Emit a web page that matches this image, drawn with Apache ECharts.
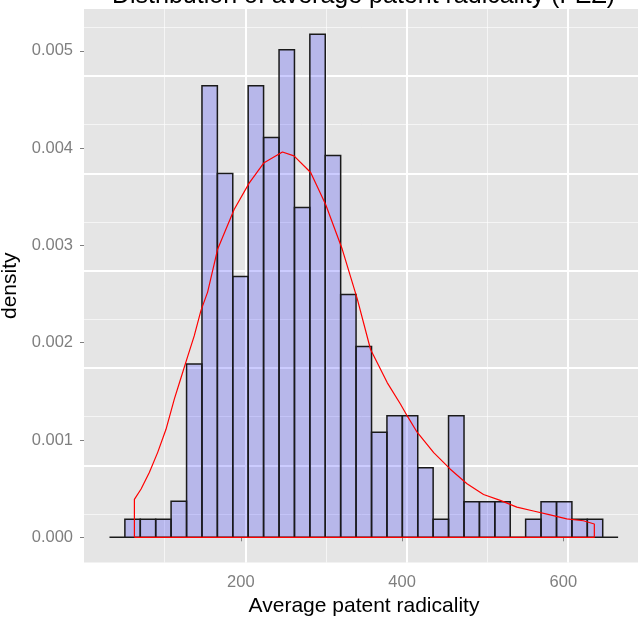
<!DOCTYPE html>
<html>
<head>
<meta charset="utf-8">
<title>Distribution of average patent radicality</title>
<script src="https://cdn.jsdelivr.net/npm/echarts@6.0.0/dist/echarts.min.js"></script>
<style>
  html, body { margin: 0; padding: 0; background: #ffffff; }
  #chart { width: 638px; height: 622px; }
</style>
</head>
<body>
<div id="chart"></div>
<script>
/* histogram + density curve, ggplot look */
var TITLE = "Distribution of average patent radicality (FEZ)";
var X_NAME = "Average patent radicality";
var Y_NAME = "density";

// histogram bin breaks (34 edges -> 33 bins)
var binEdges = [37.1, 56.2, 75.3, 94.4, 113.5, 132.7, 151.8, 170.9, 190.0, 209.1,
  228.2, 247.4, 266.5, 285.6, 304.7, 323.8, 342.9, 362.1, 381.2, 400.3,
  419.4, 438.5, 457.6, 476.8, 495.9, 515.0, 534.1, 553.2, 572.3, 591.5,
  610.6, 629.7, 648.8, 667.9];
// density of each bin
var binDensity = [0, 0.000185, 0.000185, 0.000185, 0.00037, 0.00178, 0.00464, 0.00374, 0.00268, 0.00464,
  0.00411, 0.00501, 0.00339, 0.00517, 0.003925, 0.002495, 0.00196, 0.00108, 0.00125, 0.00125,
  0.000715, 0.000185, 0.00125, 0.000366, 0.000366, 0.000366, 0, 0.000185, 0.000366, 0.000366,
  0.000185, 0.000185, 0];

// kernel density outline (closed like ggplot's geom_density)
var densX = [68.0, 68.0, 76.3, 86.5, 96.9, 107.2, 117.5, 125.8, 134.1, 142.2, 150.5, 158.8,
  171.2, 191.7, 210.3, 228.8, 251.6, 265.9, 286.6, 305.2, 325.8, 344.4, 360.9, 381.5,
  397.9, 406.2, 418.6, 439.2, 459.8, 480.5, 501.0, 521.7, 542.3, 562.9, 583.6, 604.2,
  624.8, 638.4, 638.4, 68.0];
var densY = [0, 0.00039, 0.000496, 0.000667, 0.000873, 0.00111, 0.00142, 0.00164, 0.00186, 0.00207, 0.00233, 0.00252,
  0.00296, 0.00337, 0.00364, 0.00385, 0.00396, 0.00392, 0.00375, 0.00342, 0.00296, 0.00245, 0.00193, 0.00159,
  0.00137, 0.00125, 0.00108, 0.00087, 0.0007, 0.00055, 0.00044, 0.00038, 0.00031, 0.00027, 0.00023, 0.00019,
  0.00017, 0.000137, 0, 0];

var xTicks = [200, 400, 600];
var yTicks = [0, 0.001, 0.002, 0.003, 0.004, 0.005];

var FONT = "Liberation Sans, Arial, sans-serif";
var GREY = "#7f7f7f";

var X_MIN = 5.5, X_MAX = 700;
var Y_MIN = -0.000259, Y_MAX = 0.00543;

var bins = binDensity.map(function (d, i) { return [binEdges[i], binEdges[i + 1], d]; });
var curve = densX.map(function (x, i) { return [x, densY[i]]; });

var chart = echarts.init(document.getElementById("chart"), null, { renderer: "canvas" });

// axis used only to draw grid lines
function gridAxis(min, max, interval, color, width, z) {
  return {
    type: "value", gridIndex: 0, min: min, max: max, interval: interval, z: z,
    axisLine: { show: false }, axisTick: { show: false }, axisLabel: { show: false },
    splitLine: { show: true, showMinLine: false, showMaxLine: false,
      lineStyle: { color: color, width: width } }
  };
}

chart.setOption({
  animation: false,
  backgroundColor: "#ffffff",
  title: {
    text: TITLE, left: 107, top: -21,
    textStyle: { color: "#000", fontFamily: FONT, fontSize: 25, fontWeight: "normal" }
  },
  grid: {
    left: 84, right: -6, top: 9, bottom: 59.5,
    outerBoundsMode: "none", containLabel: false,
    show: true, backgroundColor: "#e5e5e5", borderWidth: 0
  },
  xAxis: [
    {
      type: "value", min: X_MIN, max: X_MAX,
      name: X_NAME, nameLocation: "middle", nameGap: 28,
      nameTextStyle: { color: "#000", fontFamily: FONT, fontSize: 21 },
      axisLine: { show: false },
      axisTick: { show: true, length: 4, customValues: xTicks, lineStyle: { color: GREY } },
      axisLabel: { customValues: xTicks, color: GREY, fontFamily: FONT, fontSize: 16.5, margin: 11 },
      splitLine: { show: false }
    },
    gridAxis(X_MIN, X_MAX, 100, "rgba(255,255,255,0.6)", 1, 0),
    gridAxis(X_MIN, X_MAX, 200, "#ffffff", 2, 1)
  ],
  yAxis: [
    {
      type: "value", min: Y_MIN, max: Y_MAX,
      name: Y_NAME, nameLocation: "middle", nameGap: 50, nameRotate: 90,
      nameTextStyle: { color: "#000", fontFamily: FONT, fontSize: 21 },
      axisLine: { show: false },
      axisTick: { show: true, length: 4, customValues: yTicks, lineStyle: { color: GREY } },
      axisLabel: { customValues: yTicks, color: GREY, fontFamily: FONT, fontSize: 16.5, margin: 11,
        formatter: function (v) { return v.toFixed(3); } },
      splitLine: { show: false }
    },
    gridAxis(Y_MIN, Y_MAX, 0.0005, "rgba(255,255,255,0.6)", 1, 0),
    gridAxis(Y_MIN, Y_MAX, 0.001, "#ffffff", 2, 1)
  ],
  series: [
    {
      name: "histogram", type: "custom", xAxisIndex: 0, yAxisIndex: 0,
      data: bins, z: 2,
      renderItem: function (params, api) {
        var p0 = api.coord([api.value(0), api.value(2)]);
        var p1 = api.coord([api.value(1), 0]);
        return {
          type: "rect",
          shape: { x: p0[0], y: p0[1], width: p1[0] - p0[0], height: p1[1] - p0[1] },
          style: { fill: "rgba(0,0,255,0.2)", stroke: "#1a1a1a", lineWidth: 1.5 }
        };
      }
    },
    {
      name: "density", type: "line", xAxisIndex: 0, yAxisIndex: 0,
      data: curve, showSymbol: false, symbol: "none", smooth: false, z: 3,
      lineStyle: { color: "#ff0000", width: 1.2 }
    }
  ]
});
</script>
</body>
</html>
